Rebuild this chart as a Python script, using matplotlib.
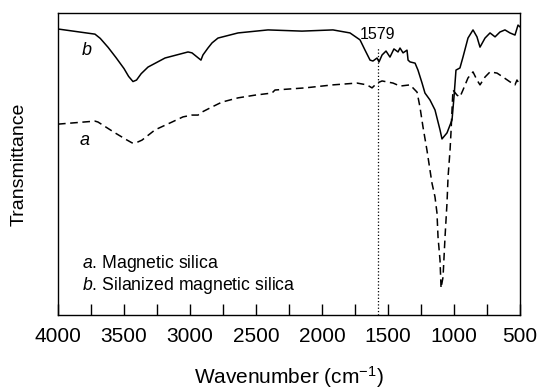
import numpy as np
import matplotlib
matplotlib.use("Agg")
import matplotlib.pyplot as plt

plt.rcParams['font.family'] = ['Liberation Sans', 'DejaVu Sans']
plt.rcParams['mathtext.fontset'] = 'custom'
plt.rcParams['mathtext.rm'] = 'Liberation Sans'
plt.rcParams['mathtext.it'] = 'Liberation Sans:italic'

# spectra (wavenumber, transmittance in arbitrary units)
wn_b = [4000, 3720, 3680, 3620, 3560, 3500, 3465, 3432, 3405, 3370, 3318, 3189, 3015, 2985,
        2917, 2902, 2864, 2833, 2788, 2636, 2409, 2152, 1917, 1788, 1712, 1674, 1636, 1614,
        1583, 1568, 1545, 1515, 1485, 1455, 1424, 1409, 1386, 1356, 1348, 1333, 1295, 1273,
        1242, 1220, 1182, 1144, 1106, 1091, 1053, 1015, 1000, 985, 955, 932, 894, 856, 826,
        803, 765, 727, 689, 652, 614, 576, 538, 515, 500]
t_b = [94.7, 93.0, 91.6, 88.6, 85.2, 81.6, 79.0, 77.3, 77.8, 79.9, 82.1, 85.1, 87.1, 86.8,
       84.4, 86.1, 88.4, 90.1, 91.7, 93.4, 94.4, 94.0, 94.4, 93.4, 91.1, 87.7, 84.4, 84.1,
       85.1, 83.8, 86.1, 87.4, 85.4, 88.1, 87.1, 88.4, 86.8, 87.7, 84.4, 83.8, 83.4, 81.1,
       76.8, 73.5, 71.2, 67.9, 61.3, 58.3, 60.3, 64.6, 72.2, 81.1, 81.8, 85.4, 91.7, 94.4,
       92.1, 88.7, 91.7, 93.4, 92.1, 93.7, 94.4, 93.4, 92.7, 96.0, 95.4]
wn_a = [4000, 3720, 3697, 3568, 3480, 3439, 3400, 3364, 3265, 3136, 3053, 2985, 2939, 2909,
        2833, 2758, 2636, 2508, 2379, 2356, 2258, 2129, 1917, 1735, 1659, 1621, 1583, 1545,
        1462, 1409, 1333, 1280, 1258, 1235, 1205, 1167, 1144, 1129, 1121, 1106, 1098, 1083,
        1068, 1053, 1045, 1030, 1023, 1015, 1008, 977, 955, 932, 894, 856, 826, 803, 765,
        727, 674, 629, 576, 538, 523, 500]
t_a = [63.2, 64.2, 63.9, 60.3, 58.0, 57.0, 57.2, 57.9, 61.3, 63.9, 65.6, 66.2, 66.2, 67.2,
       68.9, 70.5, 71.9, 72.8, 73.5, 74.5, 74.8, 75.2, 76.2, 76.8, 76.2, 75.2, 76.8, 77.5,
       76.8, 75.8, 76.2, 73.8, 68.9, 62.3, 54.6, 43.7, 39.1, 33.8, 25.8, 18.2, 8.9, 12.6,
       25.8, 37.1, 45.7, 54.6, 60.3, 67.9, 74.5, 72.8, 72.2, 74.5, 78.5, 80.5, 77.8, 76.2,
       78.8, 80.5, 80.1, 78.8, 77.2, 76.2, 77.8, 76.2]

peak_wn = 1579
legend_lines = ["$\\it{a}$. Magnetic silica", "$\\it{b}$. Silanized magnetic silica"]

fig = plt.figure(figsize=(5.39, 3.89), dpi=100)
ax = fig.add_axes([58 / 539, 1 - 315 / 389, 462 / 539, 302 / 389])

ax.plot(wn_b, t_b, color='black', lw=1.1)
ax.plot(wn_a, t_a, color='black', lw=1.1, ls=(0, (5, 3)))
ax.plot([peak_wn, peak_wn], [0, 88.4], color='black', lw=0.9, ls=':')
ax.text(peak_wn, 90.4, str(peak_wn), ha='center', va='bottom', fontsize=11.5)

ax.text(3780, 87.7, 'b', style='italic', fontsize=13, ha='center', va='center')
ax.text(3795, 57.9, 'a', style='italic', fontsize=13, ha='center', va='center')
ax.text(0.052, 0.17, legend_lines[0], transform=ax.transAxes, fontsize=12.7, va='center')
ax.text(0.052, 0.097, legend_lines[1], transform=ax.transAxes, fontsize=12.7, va='center')

ax.set_xlim(4000, 500)
ax.set_ylim(0, 100)
ax.set_xticks(np.arange(4000, 499, -500))
ax.set_xticks(np.arange(3750, 500, -500), minor=True)
ax.set_yticks([])
ax.tick_params(axis='x', which='both', direction='in', length=8, width=1, labelsize=15, pad=9)
for s in ax.spines.values():
    s.set_linewidth(1)

ax.set_xlabel('Wavenumber (cm$^{-1}$)', fontsize=15, labelpad=13)
ax.set_ylabel('Transmittance', fontsize=14, labelpad=22)

fig.savefig('out.png', dpi=100, facecolor='white')
